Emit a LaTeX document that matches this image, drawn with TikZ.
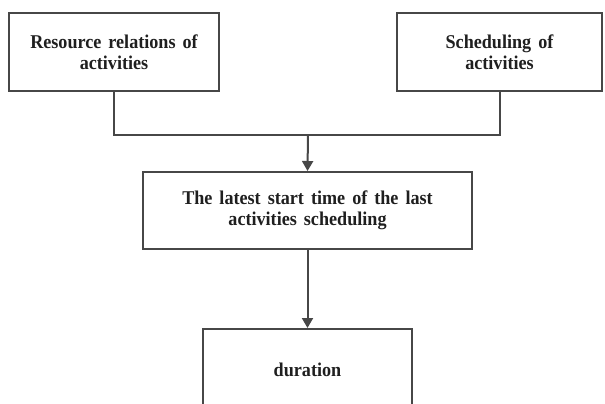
\documentclass[tikz,border=0pt]{standalone}
\usepackage{fontspec}
\setmainfont{Liberation Serif}
\newfontfamily\lblfont[FakeStretch=0.93]{Liberation Serif}
\newcommand\boxfont{\lblfont\fontsize{19.5}{21}\bfseries\selectfont\spaceskip=7pt\relax}
\usetikzlibrary{arrows.meta}
\begin{document}
\begin{tikzpicture}[x=1pt,y=-1pt,
  box/.style={draw=black!72, line width=2pt, inner sep=0pt, align=center,
    font=\boxfont, text=black!88},
  link/.style={draw=black!72, line width=2pt},
  arr/.style={link, -{Triangle[width=11pt,length=10pt]}}]
  \clip (0,0) rectangle (605,404);
  \useasboundingbox (0,0) rectangle (605,404);
  % input boxes
  \node[box, minimum width=210pt, minimum height=78pt] (res) at (114,52)
    {Resource relations of\\activities};
  \node[box, minimum width=205pt, minimum height=78pt] (sch) at (499.5,52)
    {Scheduling of\\activities};
  % merged result
  \node[box, minimum width=329pt, minimum height=77pt] (lat) at (307.5,210.5)
    {The latest start time of the last\\activities scheduling};
  % final box, running off the lower edge
  \node[box, minimum width=209pt, minimum height=82pt] (dur) at (307.5,370)
    {duration};
  % connectors
  \coordinate (join) at (308,135);
  \draw[link] (res.south) |- (join) -| (sch.south);
  \draw[arr] (join) -- (lat.north);
  \draw[arr] (lat.south) -- (dur.north);
\end{tikzpicture}
\end{document}
